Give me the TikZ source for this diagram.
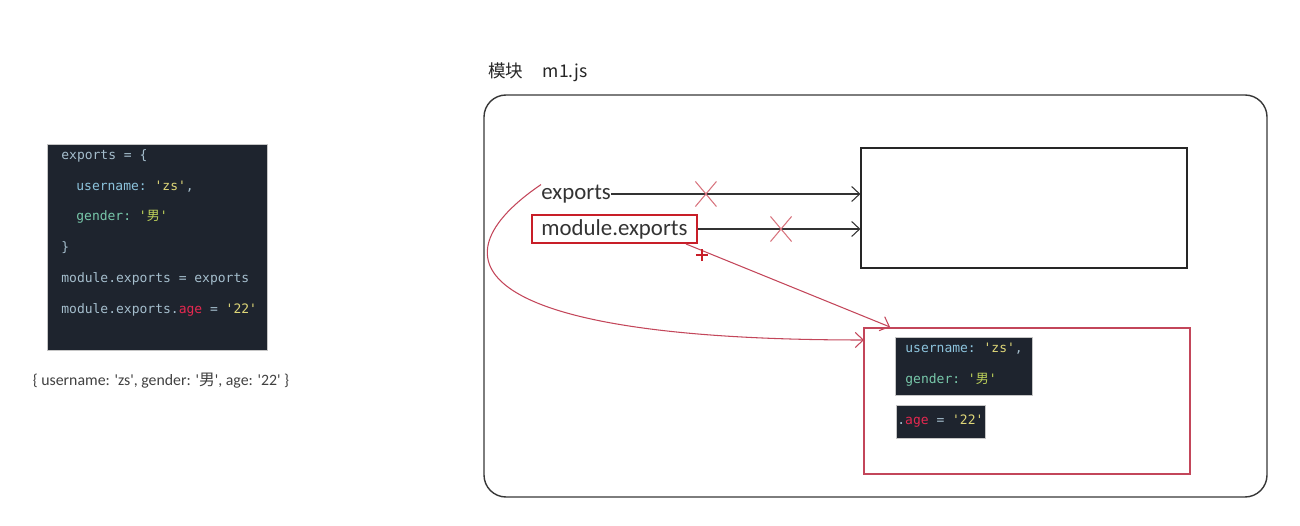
\documentclass[tikz,border=0pt]{standalone}
\usepackage{fontspec}
\setmainfont{Carlito}[Ligatures=TeXOff]
\setmonofont{DejaVu Sans Mono}
\newfontfamily\cjk{Noto Sans CJK SC}
\usepackage{tikz}
\usetikzlibrary{arrows.meta, positioning, shapes.misc}
\definecolor{codebg}{RGB}{30,36,46}
\definecolor{codefg}{RGB}{165,190,205}
\definecolor{ckey}{RGB}{140,195,220}
\definecolor{cgen}{RGB}{120,200,170}
\definecolor{cstr}{RGB}{222,214,120}
\definecolor{cnan}{RGB}{190,210,90}
\definecolor{cage}{RGB}{230,40,80}
\definecolor{modred}{RGB}{200,30,40}
\definecolor{linkred}{RGB}{195,70,90}
\definecolor{xred}{RGB}{215,115,125}
\definecolor{boxgray}{RGB}{55,55,55}

\begin{document}
\begin{tikzpicture}[x=0.02cm, y=-0.02cm,
  codebox/.style={fill=codebg, draw=gray!45, line width=0.4pt, inner sep=0pt},
  codeline/.style={anchor=west, inner sep=0pt, text=codefg,
    font=\ttfamily\fontsize{7.4}{9}\selectfont},
  label/.style={anchor=west, inner sep=0pt, text=black!80,
    font=\fontsize{13}{15}\selectfont},
  objbox/.style={draw=black!85, line width=0.7pt, inner sep=0pt},
  ptr/.style={draw=black!80, line width=0.6pt,
    -{Straight Barb[length=1.6mm, width=3mm]}},
  link/.style={draw=linkred, line width=0.6pt,
    -{Straight Barb[length=1.6mm, width=3mm]}},
  xmark/.style={draw=xred, cross out, line width=0.6pt, inner sep=0pt,
    minimum width=0.4cm, minimum height=0.48cm}]
  \useasboundingbox (0,0) rectangle (1300,526);
  % Code panel
  \node[codebox, minimum width=4.4cm, minimum height=4.12cm] (code) at (157,247) {};
  \node[codeline] (c1) at (61,156) {exports = \{};
  \node[codeline] (c2) at (76,187) {\textcolor{ckey}{username:} \textcolor{cstr}{'zs'},};
  \node[codeline] (c3) at (76,217) {\textcolor{cgen}{gender:} \textcolor{cnan}{'{\cjk 男}'}};
  \node[codeline] (c4) at (61,248) {\}};
  \node[codeline] (c5) at (61,279) {module.exports = exports};
  \node[codeline] (c6) at (61,310) {module.exports.\textcolor{cage}{age} = \textcolor{cstr}{'22'}};
  \node[text=black!75, font=\fontsize{9}{11}\selectfont] (result) at (161,381)
    {\{ username: 'zs', gender: '{\cjk 男}', age: '22' \}};
  % Module m1.js
  \node[anchor=west, inner sep=0pt, text=black!85, font=\cjk\fontsize{10}{12}\selectfont]
    (title) at (488,72) {模块\hspace{1.1em}m1.js};
  \draw[boxgray, line width=0.8pt, rounded corners=0.44cm] (484,95) rectangle (1267,497);
  \node[objbox, minimum width=6.52cm, minimum height=2.4cm] (oldobj) at (1024,208) {};
  \node[label] (exp) at (541,194) {exports};
  \node[label, anchor=center, draw=modred, line width=1.6pt,
    minimum width=3.3cm, minimum height=0.56cm] (mexp) at (614.5,229) {module.exports};
  \draw[ptr] (exp.east) -- (exp.east -| oldobj.west) node[xmark, pos=0.38] (x1) {};
  \draw[ptr] (mexp.east) -- (mexp.east -| oldobj.west) node[xmark, pos=0.51] (x2) {};
  % New object
  \node[draw=linkred, line width=0.8pt, minimum width=6.52cm, minimum height=2.92cm]
    (newobj) at (1027,401) {};
  \node[codebox, minimum width=2.74cm, minimum height=1.16cm] (nb1) at (963.5,366) {};
  \node[codeline] (n1) at (905,349) {\textcolor{ckey}{username:} \textcolor{cstr}{'zs'},};
  \node[codeline] (n2) at (905,380) {\textcolor{cgen}{gender:} \textcolor{cnan}{'{\cjk 男}'}};
  \node[codebox, minimum width=1.78cm, minimum height=0.66cm] (nb2) at (940.5,421.5) {};
  \node[codeline] (n3) at (897,421) {.\textcolor{cage}{age} = \textcolor{cstr}{'22'}};
  \coordinate (curvein) at (864,340);
  \coordinate (linein) at (890,327);
  \coordinate (mexpout) at (686,244);
  \draw[link] (exp.north west) .. controls (430,260) and (470,340) .. (curvein);
  \draw[link] (mexpout) -- (linein);
  \node[draw=modred, cross out, rotate=45, line width=1pt, inner sep=0pt,
    minimum size=0.14cm] (tick) at (702,255) {};
\end{tikzpicture}
\end{document}
